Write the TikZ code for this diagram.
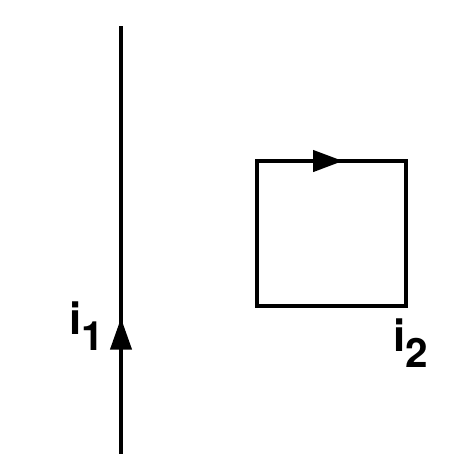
\documentclass[tikz,border=0pt]{standalone}
\usepackage{fontspec}
\setmainfont{TeX Gyre Heros}
\usepackage{tikz}
\usetikzlibrary{calc}
\usetikzlibrary{arrows.meta}
\tikzset{>=latex}
\tikzset{
  wire/.style={line width=2.2pt, line cap=rect},
  currentlabel/.style={inner sep=0pt, font=\fontsize{25}{28}\selectfont\bfseries}
}
\newcommand{\curr}[1]{i\raisebox{-0.32cm}{\fontsize{23}{26}\selectfont #1}}

\begin{document}
\begin{tikzpicture}
                \useasboundingbox (0,0) rectangle (9.48,9.34);

                % Straight wire
                \coordinate (W1) at (2.42,0.30);
                \coordinate (W2) at (2.42,8.78);
                \coordinate (T1) at (2.42,2.98);

                % Square loop
                \coordinate (A) at (5.14,3.22);
                \coordinate (B) at (8.12,3.22);
                \coordinate (C) at (8.12,6.12);
                \coordinate (D) at (5.14,6.12);
                \coordinate (T2) at (6.86,6.12);

                % Draw wire and loop
                \draw[wire] (W1) -- (W2);
                \draw[wire, line join=miter] (A) -- (B) -- (C) -- (D) -- cycle;

                % Current directions
                \draw[wire, -{Triangle[length=18pt,width=12pt]}] (W1) -- (T1);
                \draw[wire, -{Triangle[length=17pt,width=12pt]}] (D) -- (T2);

                % Labels
                \node[currentlabel] (i1) at (1.74,2.82) {\curr{1}};
                \node[currentlabel] (i2) at (8.22,2.48) {\curr{2}};
            \end{tikzpicture}
\end{document}
